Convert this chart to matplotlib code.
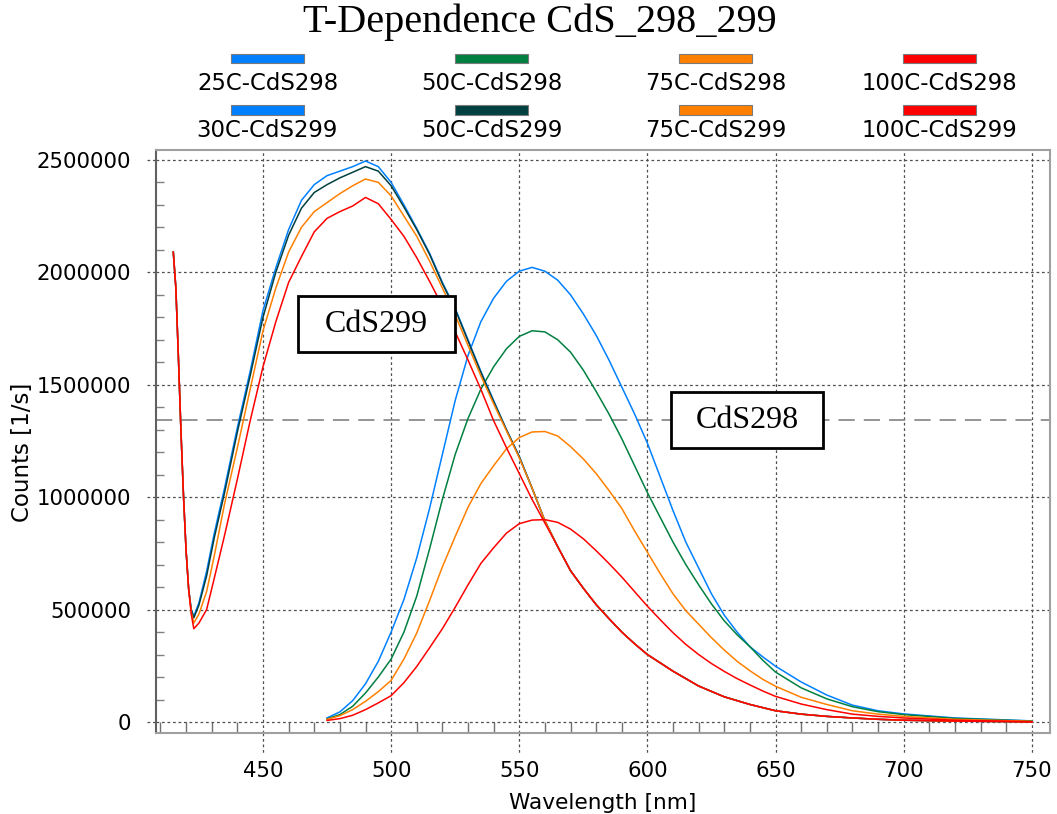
import matplotlib
matplotlib.use("Agg")
import matplotlib.pyplot as plt
from matplotlib.patches import Rectangle
from matplotlib.ticker import MultipleLocator, FuncFormatter

plt.rcParams["font.family"] = ["DejaVu Sans"]

# ---------------------------------------------------------------- data
# CdS299 spectra (wavelength in nm, counts in 1/s)
wl_299 = [415, 416, 417, 418, 419, 420, 421, 422, 423, 425, 428, 431, 435,
          440, 445, 450, 455, 460, 465, 470, 475, 480, 485, 490, 495, 500,
          505, 510, 515, 520, 525, 530, 535, 540, 545, 550, 555, 560, 565,
          570, 575, 580, 585, 590, 595, 600, 610, 620, 630, 640, 650, 660,
          670, 680, 690, 700, 720, 750]

c30_299 = [2090000, 1930000, 1620000, 1290000, 1000000, 760000, 590000, 500000,
           470000, 530000, 670000, 840000, 1040000,
           1310000, 1560000, 1830000, 2020000, 2190000, 2320000, 2390000,
           2430000, 2450000, 2470000, 2495000, 2470000, 2400000, 2300000,
           2195000, 2085000, 1955000, 1840000, 1700000, 1560000, 1430000,
           1300000, 1180000, 1040000, 895000, 780000, 673000, 595000, 522000,
           460000, 400000, 348000, 300000,
           226000, 160000, 112000, 78000, 50000, 35000, 25000, 18000, 12000,
           8000, 4000, 1000]

c50_299 = [2090000, 1930000, 1620000, 1290000, 1000000, 760000, 590000, 500000,
           463000, 520000, 650000, 820000, 1020000,
           1290000, 1540000, 1800000, 2000000, 2165000, 2285000, 2355000,
           2390000, 2420000, 2445000, 2470000, 2450000, 2385000, 2290000,
           2190000, 2080000, 1950000, 1835000, 1695000, 1555000, 1425000,
           1300000, 1180000, 1040000, 895000, 780000, 673000, 595000, 522000,
           460000, 400000, 348000, 300000,
           226000, 160000, 112000, 78000, 50000, 35000, 25000, 18000, 12000,
           8000, 4000, 1000]

c75_299 = [2090000, 1930000, 1620000, 1290000, 1000000, 760000, 590000, 490000,
           440000, 480000, 580000, 740000, 970000,
           1220000, 1480000, 1740000, 1930000, 2090000, 2200000, 2270000,
           2310000, 2350000, 2385000, 2415000, 2400000, 2340000, 2250000,
           2160000, 2050000, 1930000, 1810000, 1675000, 1540000, 1415000,
           1295000, 1175000, 1040000, 895000, 780000, 673000, 595000, 522000,
           460000, 400000, 348000, 300000,
           226000, 160000, 112000, 78000, 50000, 35000, 25000, 18000, 12000,
           8000, 4000, 1000]

c100_299 = [2090000, 1930000, 1620000, 1290000, 1000000, 760000, 590000, 480000,
            415000, 440000, 500000, 640000, 830000,
            1080000, 1340000, 1580000, 1780000, 1955000, 2070000, 2180000,
            2240000, 2270000, 2295000, 2333000, 2305000, 2235000, 2160000,
            2065000, 1960000, 1850000, 1735000, 1610000, 1480000, 1340000,
            1220000, 1105000, 990000, 885000, 780000, 673000, 595000, 522000,
            460000, 400000, 348000, 300000,
            226000, 160000, 112000, 78000, 50000, 35000, 25000, 18000, 12000,
            8000, 4000, 1000]

# CdS298 spectra
wl_298 = [475, 480, 485, 490, 495, 500, 505, 510, 515, 520, 525, 530, 535,
          540, 545, 550, 555, 560, 565, 570, 575, 580, 585, 590, 595, 600,
          605, 610, 615, 620, 625, 630, 635, 640, 645, 650, 660, 670, 680,
          690, 700, 720, 750]

c25_298 = [18000, 45000, 95000, 170000, 270000, 400000, 545000, 730000, 950000,
           1190000, 1430000, 1630000, 1780000, 1885000, 1960000, 2005000,
           2022000, 2005000, 1965000, 1900000, 1815000, 1720000, 1610000,
           1490000, 1370000, 1240000, 1090000, 940000, 800000, 685000, 570000,
           475000, 400000, 335000, 290000, 248000, 178000, 120000, 75000,
           50000, 36000, 18000, 5000]

c50_298 = [14000, 33000, 70000, 129000, 200000, 280000, 400000, 560000, 770000,
           990000, 1190000, 1350000, 1480000, 1580000, 1660000, 1715000,
           1740000, 1735000, 1700000, 1645000, 1565000, 1470000, 1370000,
           1260000, 1140000, 1020000, 910000, 800000, 700000, 610000, 525000,
           450000, 388000, 335000, 275000, 222000, 152000, 103000, 68000,
           46000, 33000, 16000, 4000]

c75_298 = [12000, 28000, 55000, 92000, 135000, 185000, 280000, 396000, 540000,
           690000, 825000, 955000, 1060000, 1140000, 1215000, 1265000,
           1290000, 1292000, 1272000, 1225000, 1170000, 1105000, 1030000,
           950000, 850000, 755000, 660000, 570000, 495000, 435000, 375000,
           320000, 270000, 228000, 190000, 159000, 110000, 78000, 50000,
           35000, 25000, 12000, 3000]

c100_298 = [7000, 15000, 30000, 55000, 85000, 117000, 175000, 247000, 330000,
            415000, 510000, 610000, 705000, 775000, 840000, 882000, 898000,
            900000, 888000, 858000, 815000, 762000, 705000, 645000, 580000,
            515000, 455000, 397000, 345000, 300000, 260000, 225000, 193000,
            165000, 138000, 114000, 80000, 55000, 35000, 25000, 18000, 8000,
            1000]

labels_298 = ["25C-CdS298", "50C-CdS298", "75C-CdS298", "100C-CdS298"]
labels_299 = ["30C-CdS299", "50C-CdS299", "75C-CdS299", "100C-CdS299"]
colors_298 = ["#0080FF", "#008040", "#FF8000", "#FF0000"]
colors_299 = ["#0080FF", "#004040", "#FF8000", "#FF0000"]

series_298 = [c25_298, c50_298, c75_298, c100_298]
series_299 = [c30_299, c50_299, c75_299, c100_299]

x_ticks = [450, 500, 550, 600, 650, 700, 750]
y_ticks = [0, 500000, 1000000, 1500000, 2000000, 2500000]
cursor_level = 1343000

# ---------------------------------------------------------------- figure
W, H = 1057, 814
fig = plt.figure(figsize=(W / 100, H / 100), dpi=100)
fig.patch.set_facecolor("white")


def fx(px):
    return px / W


def fy(py):
    return 1 - py / H


ax = fig.add_axes([fx(156), fy(733), fx(1050) - fx(156), fy(150) - fy(733)])
ax.set_xlim(408.25, 757.1)
ax.set_ylim(-48900, 2544000)

for k in range(4):
    ax.plot(wl_298, series_298[k], color=colors_298[k], lw=1.1, zorder=3)
    ax.plot(wl_299, series_299[k], color=colors_299[k], lw=1.1, zorder=3)

# marker cursor line
ax.axhline(cursor_level, color="#8c8c8c", lw=1.3, ls=(0, (9, 5)), zorder=1.5)

# grid and ticks
ax.set_axisbelow(True)
ax.grid(True, which="major", color="#505050", lw=0.9, ls=(0, (2.2, 2.2)))
ax.set_xticks(x_ticks)
ax.set_yticks(y_ticks)
ax.xaxis.set_minor_locator(MultipleLocator(10))
ax.yaxis.set_minor_locator(MultipleLocator(100000))
ax.yaxis.set_major_formatter(FuncFormatter(lambda v, p: f"{int(round(v))}"))

ax.tick_params(axis="x", which="major", length=0, pad=20, labelsize=15.3)
ax.tick_params(axis="x", which="minor", direction="in", length=8,
               color="#707070", width=1)
ax.tick_params(axis="y", which="major", length=0, pad=18, labelsize=15.3)
ax.tick_params(axis="y", which="minor", direction="in", length=6,
               color="#808080", width=1)

# dashed major ticks reaching outside the frame
for xv in x_ticks:
    ax.plot([xv, xv], [0, -0.034], transform=ax.get_xaxis_transform(),
            clip_on=False, color="#505050", lw=0.9, ls=(0, (2.2, 2.2)))
for yv in y_ticks:
    ax.plot([-0.01, 0], [yv, yv], transform=ax.get_yaxis_transform(),
            clip_on=False, color="#505050", lw=0.9, ls=(0, (2.2, 2.2)))

for side in ["top", "right", "bottom"]:
    ax.spines[side].set_color("#a0a0a0")
    ax.spines[side].set_linewidth(1.5)
ax.spines["left"].set_color("#606060")
ax.spines["left"].set_linewidth(1.5)

# ---------------------------------------------------------------- text
fig.text(fx(540), fy(32), "T-Dependence CdS_298_299",
         family=["Liberation Serif", "DejaVu Serif"], fontsize=29,
         ha="center", va="baseline")

for k in range(4):
    cx = 267.5 + 224 * k
    for row, (lab, col) in enumerate([(labels_298[k], colors_298[k]),
                                      (labels_299[k], colors_299[k])]):
        top = 53.5 + 51.5 * row
        fig.add_artist(Rectangle((fx(cx - 36.5), fy(top + 9.5)), 73 / W,
                                 9.5 / H, transform=fig.transFigure,
                                 facecolor=col, edgecolor="#7a7a7a", lw=0.8))
        fig.text(fx(cx), fy(90 + 47 * row), lab, fontsize=16.4,
                 ha="center", va="baseline")

fig.text(fx(603), fy(809), "Wavelength [nm]", fontsize=15.6,
         ha="center", va="baseline")
fig.text(fx(22), fy(452), "Counts [1/s]", fontsize=16.5, rotation=90,
         ha="center", va="center")

# sample name boxes
for (x0, y0, w, h, name) in [(298, 296, 157, 56, "CdS299"),
                             (671, 392, 152, 56, "CdS298")]:
    fig.add_artist(Rectangle((fx(x0), fy(y0 + h)), w / W, h / H,
                             transform=fig.transFigure, facecolor="white",
                             edgecolor="black", lw=2, zorder=5))
    fig.text(fx(x0 + w / 2), fy(y0 + h / 2 + 1), name,
             family=["Liberation Serif", "DejaVu Serif"], fontsize=23,
             ha="center", va="center", zorder=6)

fig.savefig("out.png", dpi=100)
